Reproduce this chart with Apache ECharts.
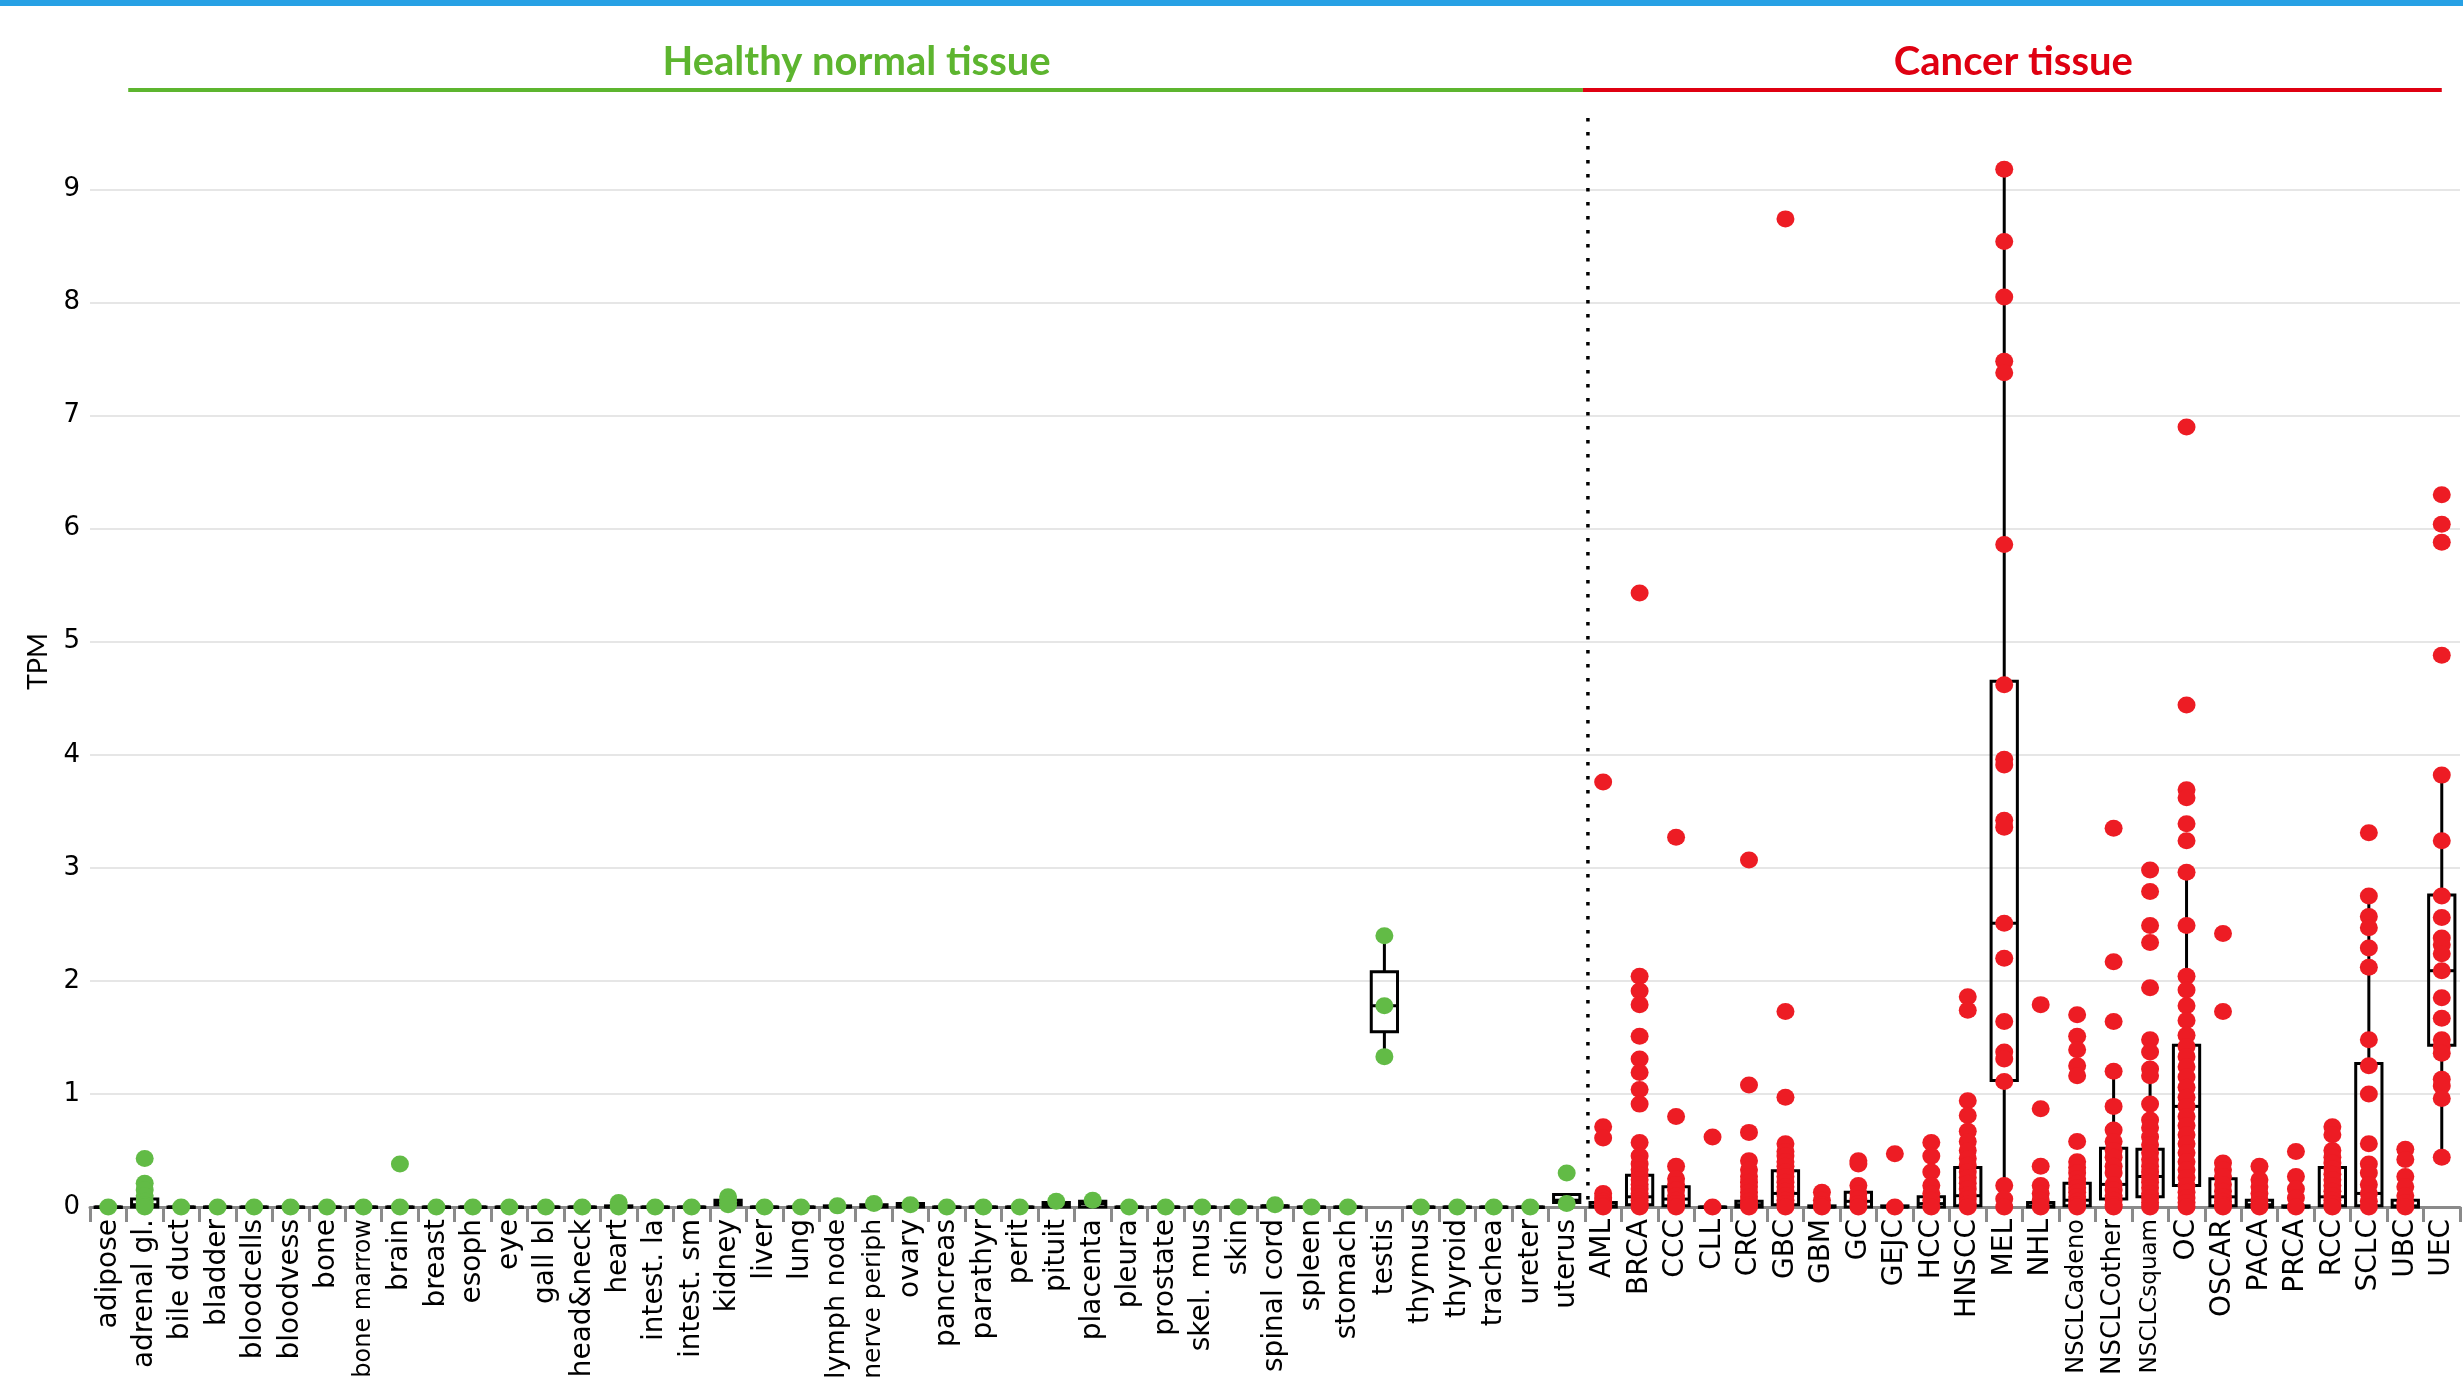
<!DOCTYPE html>
<html>
<head>
<meta charset="utf-8">
<title>TPM by tissue</title>
<script src="https://cdn.jsdelivr.net/npm/echarts@6/dist/echarts.min.js"></script>
<style>
  html, body { margin: 0; padding: 0; background: #ffffff; overflow: hidden; }
  #chart { width: 2463px; height: 1384px; }
</style>
</head>
<body>
<div id="chart"></div>
<script>
// Tissue categories
const healthyTissues = ['adipose', 'adrenal gl.', 'bile duct', 'bladder', 'bloodcells', 'bloodvess', 'bone',
  'bone marrow', 'brain', 'breast', 'esoph', 'eye', 'gall bl', 'head&neck', 'heart', 'intest. la', 'intest. sm',
  'kidney', 'liver', 'lung', 'lymph node', 'nerve periph', 'ovary', 'pancreas', 'parathyr', 'perit', 'pituit',
  'placenta', 'pleura', 'prostate', 'skel. mus', 'skin', 'spinal cord', 'spleen', 'stomach', 'testis', 'thymus',
  'thyroid', 'trachea', 'ureter', 'uterus'];
const cancerTypes = ['AML', 'BRCA', 'CCC', 'CLL', 'CRC', 'GBC', 'GBM', 'GC', 'GEJC', 'HCC', 'HNSCC', 'MEL', 'NHL',
  'NSCLCadeno', 'NSCLCother', 'NSCLCsquam', 'OC', 'OSCAR', 'PACA', 'PRCA', 'RCC', 'SCLC', 'UBC', 'UEC'];

// Individual sample values (TPM), one list per healthy tissue
const healthyValues = [
  [0], [0.43, 0.21, 0.15, 0.10, 0.05, 0.02, 0], [0], [0], [0], [0], [0],
  [0], [0.38, 0], [0], [0], [0], [0], [0], [0.04, 0], [0], [0],
  [0.09, 0.05, 0.02], [0], [0], [0.01], [0.03], [0.02], [0], [0], [0], [0.05],
  [0.06], [0], [0], [0], [0], [0.02], [0], [0], [2.40, 1.78, 1.33], [0],
  [0], [0], [0], [0.30, 0.03]
];
// Box statistics per healthy tissue: [low whisker, Q1, median, Q3, high whisker]
const healthyBoxes = [
  [0, 0, 0, 0, 0], [0, 0, 0.02, 0.07, 0.07], [0, 0, 0, 0, 0], [0, 0, 0, 0, 0], [0, 0, 0, 0, 0], [0, 0, 0, 0, 0], [0, 0, 0, 0, 0],
  [0, 0, 0, 0, 0], [0, 0, 0, 0, 0], [0, 0, 0, 0, 0], [0, 0, 0, 0, 0], [0, 0, 0, 0, 0], [0, 0, 0, 0, 0], [0, 0, 0, 0, 0], [0, 0, 0, 0.01, 0.01], [0, 0, 0, 0, 0], [0, 0, 0, 0, 0],
  [0.02, 0.02, 0.04, 0.06, 0.06], [0, 0, 0, 0, 0], [0, 0, 0, 0, 0], [0, 0, 0, 0.01, 0.01], [0, 0, 0.01, 0.02, 0.02], [0, 0, 0.01, 0.03, 0.03], [0, 0, 0, 0, 0], [0, 0, 0, 0, 0], [0, 0, 0, 0, 0], [0, 0, 0.02, 0.04, 0.04],
  [0, 0, 0.03, 0.05, 0.05], [0, 0, 0, 0, 0], [0, 0, 0, 0, 0], [0, 0, 0, 0, 0], [0, 0, 0, 0, 0], [0, 0, 0.01, 0.01, 0.01], [0, 0, 0, 0, 0], [0, 0, 0, 0, 0], [1.33, 1.55, 1.78, 2.08, 2.40], [0, 0, 0, 0, 0],
  [0, 0, 0, 0, 0], [0, 0, 0, 0, 0], [0, 0, 0, 0, 0], [0.04, 0.04, 0.06, 0.11, 0.11]
];

// Individual sample values (TPM), one list per cancer type
const cancerValues = [
  [3.76, 0.71, 0.61, 0.12, 0.08, 0.05, 0.03, 0.01, 0],
  [5.43, 2.04, 1.91, 1.79, 1.51, 1.31, 1.19, 1.04, 0.91, 0.57, 0.45, 0.38, 0.33, 0.28, 0.24, 0.20, 0.16, 0.12, 0.09, 0.06, 0.03, 0.01, 0],
  [3.27, 0.80, 0.36, 0.25, 0.20, 0.15, 0.10, 0.06, 0.03, 0],
  [0.62, 0],
  [3.07, 1.08, 0.66, 0.41, 0.33, 0.27, 0.22, 0.18, 0.13, 0.09, 0.05, 0.02, 0],
  [8.74, 1.73, 0.97, 0.56, 0.49, 0.45, 0.40, 0.36, 0.31, 0.27, 0.22, 0.18, 0.14, 0.10, 0.06, 0.03, 0],
  [0.13, 0.06, 0.02, 0],
  [0.41, 0.38, 0.19, 0.12, 0.07, 0.03, 0],
  [0.47, 0],
  [0.57, 0.45, 0.31, 0.19, 0.12, 0.06, 0],
  [1.86, 1.74, 0.94, 0.81, 0.67, 0.58, 0.50, 0.43, 0.37, 0.31, 0.26, 0.21, 0.16, 0.11, 0.07, 0.03, 0],
  [9.18, 8.54, 8.05, 7.48, 7.38, 5.86, 4.62, 3.96, 3.91, 3.42, 3.36, 2.51, 2.20, 1.64, 1.37, 1.31, 1.11, 0.19, 0.07, 0],
  [1.79, 0.87, 0.36, 0.19, 0.12, 0.06, 0],
  [1.70, 1.51, 1.39, 1.25, 1.16, 0.58, 0.40, 0.35, 0.30, 0.25, 0.21, 0.17, 0.13, 0.09, 0.05, 0.02, 0],
  [3.35, 2.17, 1.64, 1.20, 0.89, 0.68, 0.58, 0.50, 0.44, 0.36, 0.30, 0.20, 0.15, 0.10, 0.06, 0.02, 0],
  [2.98, 2.79, 2.49, 2.34, 1.94, 1.48, 1.37, 1.22, 1.16, 0.91, 0.77, 0.70, 0.62, 0.55, 0.48, 0.42, 0.36, 0.31, 0.27, 0.22, 0.17, 0.12, 0.08, 0.04, 0],
  [6.90, 4.44, 3.69, 3.62, 3.39, 3.24, 2.96, 2.49, 2.04, 1.92, 1.78, 1.65, 1.52, 1.42, 1.33, 1.24, 1.15, 1.06, 0.97, 0.89, 0.80, 0.72, 0.64, 0.56, 0.48, 0.40, 0.33, 0.26, 0.19, 0.13, 0.08, 0.04, 0],
  [2.42, 1.73, 0.39, 0.33, 0.27, 0.20, 0.14, 0.09, 0.05, 0.02, 0],
  [0.36, 0.24, 0.18, 0.12, 0.06, 0.02, 0],
  [0.49, 0.27, 0.16, 0.08, 0],
  [0.71, 0.64, 0.50, 0.44, 0.39, 0.34, 0.29, 0.24, 0.19, 0.14, 0.10, 0.06, 0.03, 0],
  [3.31, 2.75, 2.57, 2.47, 2.29, 2.12, 1.48, 1.25, 1.00, 0.56, 0.38, 0.30, 0.20, 0.12, 0.05, 0],
  [0.51, 0.42, 0.27, 0.18, 0.10, 0.04, 0],
  [6.30, 6.04, 5.88, 4.88, 3.82, 3.24, 2.75, 2.56, 2.38, 2.32, 2.24, 2.09, 1.85, 1.67, 1.48, 1.42, 1.36, 1.13, 1.07, 0.96, 0.44]
];
// Box statistics per cancer type: [low whisker, Q1, median, Q3, high whisker]
const cancerBoxes = [
  [0, 0, 0.01, 0.04, 0.04],
  [0, 0.02, 0.09, 0.28, 0.57],
  [0, 0.01, 0.07, 0.18, 0.36],
  [0, 0, 0, 0, 0],
  [0, 0, 0.02, 0.05, 0.13],
  [0, 0.02, 0.12, 0.32, 0.56],
  [0, 0, 0, 0.01, 0.01],
  [0, 0, 0.05, 0.13, 0.19],
  [0, 0, 0, 0.01, 0.01],
  [0, 0, 0.03, 0.09, 0.19],
  [0, 0.01, 0.10, 0.35, 0.81],
  [0, 1.12, 2.51, 4.65, 9.18],
  [0, 0, 0.01, 0.04, 0.04],
  [0, 0.01, 0.06, 0.21, 0.40],
  [0, 0.07, 0.20, 0.52, 1.20],
  [0, 0.09, 0.27, 0.51, 1.16],
  [0, 0.19, 0.89, 1.43, 2.96],
  [0, 0.01, 0.09, 0.25, 0.39],
  [0, 0, 0.02, 0.06, 0.12],
  [0, 0, 0, 0.01, 0.01],
  [0, 0.01, 0.09, 0.35, 0.71],
  [0, 0.01, 0.12, 1.27, 2.75],
  [0, 0, 0.01, 0.06, 0.12],
  [0.44, 1.43, 2.09, 2.76, 3.82]
];

const categories = healthyTissues.concat(cancerTypes);
const yTicks = [0, 1, 2, 3, 4, 5, 6, 7, 8, 9];
const yMax = 9.65;

const GREEN = '#62bb46';
const RED = '#ed1c24';
const W = 2463, H = 1384;
const GRID = { left: 90, top: 116, width: 2370, height: 1091 };

function pointsOf(names, lists) {
  const out = [];
  names.forEach((name, i) => lists[i].forEach(v => out.push([name, v])));
  return out;
}
const boxData = healthyBoxes.concat(cancerBoxes).map((b, i) => [i].concat(b));

// Category labels: 28px, long names shrink so they stay inside the canvas
const LABEL_PX = 28, LABEL_MARGIN = 12;
const labelRoom = H - (GRID.top + GRID.height) - LABEL_MARGIN - 4;
const measure = document.createElement('canvas').getContext('2d');
measure.font = LABEL_PX + 'px "DejaVu Sans"';
const labelRich = {}, labelKey = {};
categories.forEach(c => {
  const w = measure.measureText(c).width;
  const fs = w > labelRoom ? Math.floor(LABEL_PX * labelRoom / w) : LABEL_PX;
  labelRich['f' + fs] = { fontSize: fs, fontFamily: 'DejaVu Sans', color: '#000' };
  labelKey[c] = 'f' + fs;
});

const chart = echarts.init(document.getElementById('chart'), null, { renderer: 'canvas', width: W, height: H });

// Box outline, median bar and whiskers (no end caps)
function renderBox(params, api) {
  const idx = api.value(0);
  const lo = api.coord([idx, api.value(1)]);
  const q1 = api.coord([idx, api.value(2)]);
  const med = api.coord([idx, api.value(3)]);
  const q3 = api.coord([idx, api.value(4)]);
  const hi = api.coord([idx, api.value(5)]);
  const w = api.size([1, 0])[0] * 0.72;
  const cx = q1[0];
  const style = { stroke: '#000', lineWidth: 3, fill: null };
  const children = [
    { type: 'rect', shape: { x: cx - w / 2, y: q3[1], width: w, height: Math.max(q1[1] - q3[1], 0.5) }, style: style },
    { type: 'line', shape: { x1: cx - w / 2, y1: med[1], x2: cx + w / 2, y2: med[1] }, style: style }
  ];
  if (hi[1] < q3[1] - 0.5) children.push({ type: 'line', shape: { x1: cx, y1: q3[1], x2: cx, y2: hi[1] }, style: style });
  if (lo[1] > q1[1] + 0.5) children.push({ type: 'line', shape: { x1: cx, y1: q1[1], x2: cx, y2: lo[1] }, style: style });
  return { type: 'group', children: children };
}

chart.setOption({
  animation: false,
  backgroundColor: '#ffffff',
  grid: Object.assign({ containLabel: false }, GRID),
  xAxis: {
    type: 'category',
    data: categories,
    boundaryGap: true,
    axisLine: { show: true, lineStyle: { color: '#8a8a8a', width: 3 } },
    axisTick: { show: true, length: 15, lineStyle: { color: '#8a8a8a', width: 3 } },
    axisLabel: {
      interval: 0, rotate: 90, margin: LABEL_MARGIN,
      fontFamily: 'DejaVu Sans', fontSize: LABEL_PX, color: '#000',
      formatter: v => '{' + labelKey[v] + '|' + v + '}',
      rich: labelRich
    },
    splitLine: { show: false }
  },
  yAxis: {
    type: 'value',
    min: 0, max: yMax, interval: 1,
    name: 'TPM', nameLocation: 'middle', nameGap: 38,
    nameTextStyle: { fontFamily: 'Lato', fontSize: 27, color: '#000' },
    axisLine: { show: false },
    axisTick: { show: false },
    axisLabel: {
      margin: 10, fontFamily: 'DejaVu Sans', fontSize: 26, color: '#000', showMaxLabel: false,
      formatter: v => (yTicks.indexOf(v) >= 0 ? String(v) : '')
    },
    splitLine: { show: true, showMinLine: false, showMaxLine: false, lineStyle: { color: '#e6e6e6', width: 2 } }
  },
  series: [
    {
      name: 'box', type: 'custom', renderItem: renderBox, data: boxData,
      encode: { x: 0, y: [1, 2, 3, 4, 5] }, z: 2, silent: true
    },
    {
      name: 'Healthy normal tissue', type: 'scatter', data: pointsOf(healthyTissues, healthyValues),
      symbol: 'circle', symbolSize: [18, 17], itemStyle: { color: GREEN, opacity: 1 }, z: 3
    },
    {
      name: 'Cancer tissue', type: 'scatter', data: pointsOf(cancerTypes, cancerValues),
      symbol: 'circle', symbolSize: [18, 17], itemStyle: { color: RED, opacity: 1 }, z: 3
    }
  ]
});

// Section headers, divider between healthy and cancer groups
const xSplit = (chart.convertToPixel({ xAxisIndex: 0 }, 'uterus') + chart.convertToPixel({ xAxisIndex: 0 }, 'AML')) / 2;
const yTop = chart.convertToPixel({ yAxisIndex: 0 }, yMax);
const yZero = chart.convertToPixel({ yAxisIndex: 0 }, 0);
const xFirst = chart.convertToPixel({ xAxisIndex: 0 }, 'adipose');
const xLast = chart.convertToPixel({ xAxisIndex: 0 }, 'UEC');

chart.setOption({
  graphic: [
    { type: 'rect', left: 0, top: 0, shape: { width: W, height: 6 }, style: { fill: '#27a1e5' }, silent: true },
    { type: 'line', shape: { x1: xFirst + 20, y1: 90, x2: xSplit - 2, y2: 90 }, style: { stroke: '#5db52f', lineWidth: 4 }, silent: true },
    { type: 'line', shape: { x1: xSplit - 2, y1: 90, x2: xLast, y2: 90 }, style: { stroke: '#df0011', lineWidth: 4 }, silent: true },
    {
      type: 'text', x: (xFirst + 20 + xSplit) / 2, y: 62,
      style: { text: 'Healthy normal tissue', fill: '#5db52f', font: 'bold 40px Lato', textAlign: 'center', textVerticalAlign: 'middle' }, silent: true
    },
    {
      type: 'text', x: (xSplit + xLast) / 2, y: 62,
      style: { text: 'Cancer tissue', fill: '#df0011', font: 'bold 40px Lato', textAlign: 'center', textVerticalAlign: 'middle' }, silent: true
    },
    {
      type: 'line', shape: { x1: xSplit + 3, y1: yTop + 2, x2: xSplit + 3, y2: yZero - 6 },
      style: { stroke: '#000', lineWidth: 3.5, lineDash: [3.5, 10.5] }, silent: true
    }
  ]
});
</script>
</body>
</html>
